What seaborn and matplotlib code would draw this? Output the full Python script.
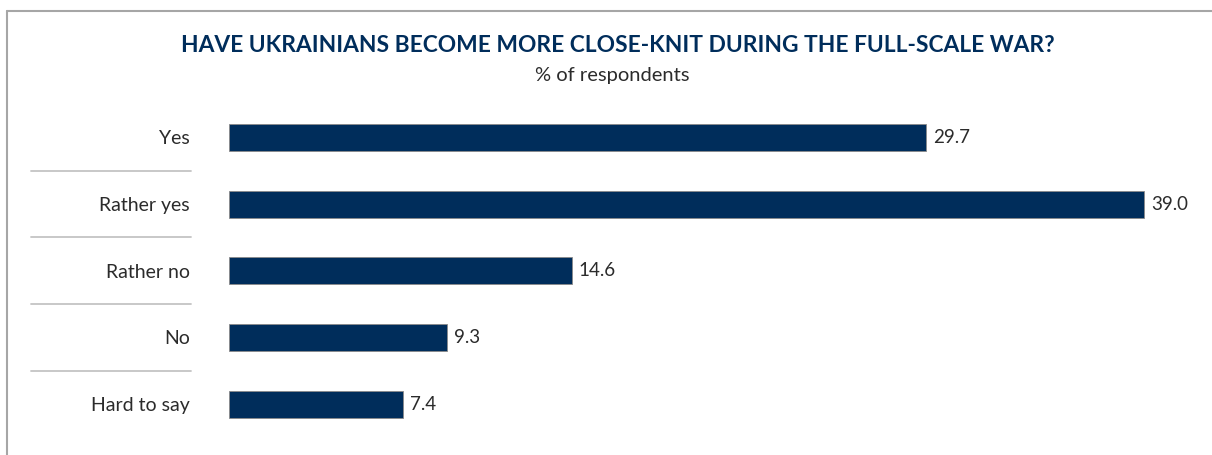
import matplotlib
matplotlib.use("Agg")
import matplotlib.pyplot as plt
import matplotlib.transforms as mtransforms
from matplotlib.lines import Line2D
import seaborn as sns
import pandas as pd

categories = ["Yes", "Rather yes", "Rather no", "No", "Hard to say"]
values = [29.7, 39.0, 14.6, 9.3, 7.4]

title = "HAVE UKRAINIANS BECOME MORE CLOSE-KNIT DURING THE FULL-SCALE WAR?"
subtitle = "% of respondents"

NAVY = "#002D5B"
TEXT = "#2b2b2b"
RULE = "#c4c4c4"
FRAME = "#a6a6a6"

sns.set_theme(style="white")
plt.rcParams["font.family"] = ["Lato", "DejaVu Sans"]

W, H = 1212, 455
fig = plt.figure(figsize=(W / 100, H / 100), dpi=100)

# axes placed in figure pixels
ax_left, ax_top, ax_bottom = 229, 104, 437.5
xmax = 41.0
px_per_unit = 23.47
ax = fig.add_axes([ax_left / W, 1 - ax_bottom / H,
                   xmax * px_per_unit / W, (ax_bottom - ax_top) / H])

df = pd.DataFrame({"category": categories, "value": values})
sns.barplot(data=df, x="value", y="category", orient="h", color=NAVY,
            width=0.405, edgecolor="#8a8a8a", linewidth=0.6, saturation=1,
            ax=ax)

ax.set_xlim(0, xmax)
ax.set_ylim(len(categories) - 0.5, -0.5)
ax.set_xlabel("")
ax.set_ylabel("")
ax.set_xticks([])
for s in ax.spines.values():
    s.set_visible(False)
ax.tick_params(axis="y", length=0, pad=28, labelsize=14, labelcolor=TEXT)

for i, v in enumerate(values):
    ax.text(v + 0.3, i, f"{v:.1f}", va="center", ha="left",
            fontsize=13.5, color=TEXT)

# separators between category labels
trans = mtransforms.blended_transform_factory(fig.transFigure, ax.transData)
for k in range(len(categories) - 1):
    ax.add_line(Line2D([31 / W, 191 / W], [k + 0.5, k + 0.5],
                       transform=trans, color=RULE, lw=1.3, clip_on=False))

# frame lines at top and left
fig.add_artist(Line2D([7 / W, 1.0], [1 - 11 / H, 1 - 11 / H],
                      transform=fig.transFigure, color=FRAME, lw=1.5))
fig.add_artist(Line2D([7 / W, 7 / W], [1 - 11 / H, 0],
                      transform=fig.transFigure, color=FRAME, lw=1.5))

fig.text(618 / W, 1 - 45 / H, title, ha="center", va="center",
         fontsize=16.4, fontweight="bold", color=NAVY)
fig.text(612 / W, 1 - 76 / H, subtitle, ha="center", va="center",
         fontsize=14.5, color=TEXT)

fig.savefig("out.png", dpi=100)
